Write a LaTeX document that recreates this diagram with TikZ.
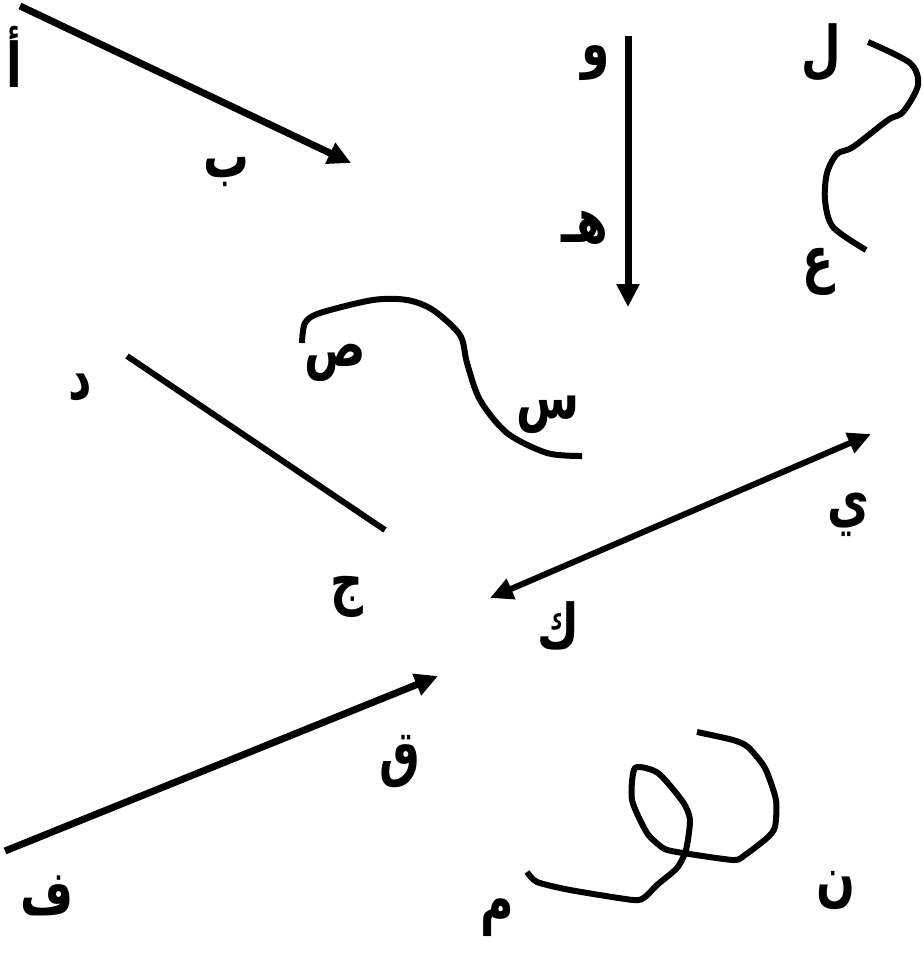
\documentclass[tikz,border=0pt]{standalone}
\usepackage{fontspec}
\usepackage{tikz}
\usetikzlibrary{arrows.meta, positioning}
\newfontfamily\arabicfont[Script=Arabic]{DejaVu Sans}
\TeXXeTstate=1
\newcommand{\tallglyph}[1]{\scalebox{1}[1.35]{\beginR #1\endR}}

\begin{document}
\begin{tikzpicture}[
    x=0.02cm, y=-0.02cm,
    letter/.style={
        inner sep=0pt,
        font=\arabicfont\bfseries\fontsize{26}{30}\selectfont
    },
    ray/.style={
        line width=0.14cm,
        -{Triangle[length=0.46cm, width=0.44cm]}
    },
    tworay/.style={
        line width=0.12cm,
        {Triangle[length=0.46cm, width=0.42cm]}-{Triangle[length=0.46cm, width=0.42cm]}
    },
    segment/.style={
        line width=0.12cm
    },
    freehand/.style={
        line width=0.12cm,
        line join=round
    }
]

\useasboundingbox (0,0) rectangle (923,958);

% End points
\coordinate (pA) at (20,6);
\coordinate (pB) at (351,163);
\coordinate (pW) at (628,36);
\coordinate (pH) at (628,307);
\coordinate (pL) at (868,42);
\coordinate (pE) at (866,250);
\coordinate (pS) at (302,343);
\coordinate (pX) at (582,456);
\coordinate (pD) at (127,356);
\coordinate (pJ) at (385,530);
\coordinate (pK) at (490,598);
\coordinate (pY) at (871,434);
\coordinate (pF) at (5,851);
\coordinate (pQ) at (438,676);
\coordinate (pM) at (527,872);
\coordinate (pN) at (697,732);

% Letters
\node[letter] (alif) at (14,57) {\tallglyph{أ}};
\node[letter] (ba) at (226,172) {\tallglyph{ب}};
\node[letter] (waw) at (596,63) {\tallglyph{و}};
\node[letter] (ha) at (585,228) {\tallglyph{هـ}};
\node[letter] (lam) at (821,53) {\tallglyph{ل}};
\node[letter] (ain) at (818,272) {\tallglyph{ع}};
\node[letter] (sad) at (335,363) {\tallglyph{ص}};
\node[letter] (sin) at (548,415) {\tallglyph{س}};
\node[letter] (dal) at (80,388) {\tallglyph{د}};
\node[letter] (jim) at (347,597) {\tallglyph{ج}};
\node[letter] (ya) at (848,515) {\tallglyph{ي}};
\node[letter] (kaf) at (558,626) {\tallglyph{ك}};
\node[letter] (qaf) at (400,762) {\tallglyph{ق}};
\node[letter] (fa) at (47,896) {\tallglyph{ف}};
\node[letter] (mim) at (497,918) {\tallglyph{م}};
\node[letter] (nun) at (836,890) {\tallglyph{ن}};

% Straight lines and rays
\draw[ray] (pA) -- (pB);
\draw[ray] (pW) -- (pH);
\draw[segment] (pD) -- (pJ);
\draw[tworay] (pK) -- (pY);
\draw[ray] (pF) -- (pQ);

% Curves
\draw[freehand] plot[smooth, tension=0.5] coordinates {
    (pL) (910,63) (918,85) (903,112) (888,120) (853,147) (837,154)
    (827,173) (825,200) (833,227) (pE)};
\draw[freehand] plot[smooth, tension=0.5] coordinates {
    (pS) (305,323) (320,313) (373,300) (407,300) (433,310) (460,335)
    (467,363) (480,400) (507,433) (547,453) (pX)};
\draw[freehand] plot[smooth, tension=0.4] coordinates {
    (pM) (537,882) (570,890) (633,900) (645,897) (657,885) (677,868)
    (686,850) (690,820) (683,802) (658,773) (635,768) (632,800)
    (647,833) (663,848) (677,852) (733,860) (745,855) (767,838)
    (775,827) (776,800) (765,768) (748,747) (733,740) (pN)};

\end{tikzpicture}
\end{document}
